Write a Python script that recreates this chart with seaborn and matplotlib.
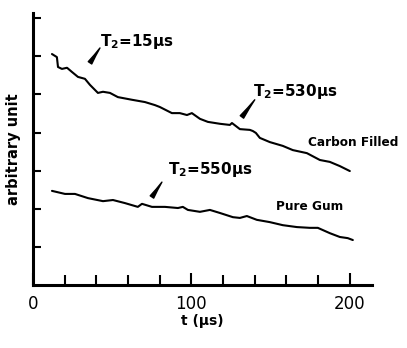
import numpy as np
import pandas as pd
import matplotlib
matplotlib.use("Agg")
import matplotlib.pyplot as plt
import seaborn as sns

# Data
carbon_t = [12.0, 15.1, 15.8, 18.3, 21.5, 24.6, 28.4, 32.8, 36.0, 41.0, 44.2, 48.6, 53.6,
            62.5, 70.7, 77.0, 80.1, 87.7, 92.7, 97.2, 100.3, 105.4, 110.4, 118.0, 124.3,
            125.6, 130.6, 136.9, 138.8, 140.7, 143.2, 149.5, 157.7, 164.0, 172.9, 181.1,
            187.4, 193.7, 200.0]
carbon_v = [6.06, 5.98, 5.72, 5.67, 5.70, 5.59, 5.46, 5.41, 5.25, 5.04, 5.07, 5.04, 4.93,
            4.86, 4.80, 4.72, 4.67, 4.51, 4.51, 4.46, 4.51, 4.36, 4.28, 4.23, 4.20,
            4.25, 4.09, 4.07, 4.04, 3.99, 3.86, 3.75, 3.65, 3.54, 3.46, 3.28,
            3.23, 3.12, 2.99]
gum_t = [12.0, 20.2, 26.5, 34.7, 44.2, 50.5, 58.0, 66.2, 68.8, 75.1, 83.3, 91.5, 94.6,
         97.8, 105.4, 111.7, 118.0, 126.2, 130.6, 135.0, 141.3, 149.5, 157.7, 166.6,
         174.8, 179.8, 187.4, 193.7, 198.7, 201.9]
gum_v = [2.47, 2.39, 2.39, 2.28, 2.20, 2.23, 2.15, 2.05, 2.13, 2.05, 2.05, 2.02, 2.05,
         1.97, 1.92, 1.97, 1.89, 1.78, 1.76, 1.81, 1.71, 1.65, 1.57, 1.52,
         1.50, 1.50, 1.36, 1.26, 1.23, 1.18]
series_names = ["Carbon Filled", "Pure Gum"]
x_tick_labels = ["0", "100", "200"]
x_label = "t (μs)"
y_label = "arbitrary unit"
t2_labels = ["T$_2$=15μs", "T$_2$=530μs", "T$_2$=550μs"]

df = pd.concat([
    pd.DataFrame({"t": carbon_t, "v": carbon_v, "s": series_names[0]}),
    pd.DataFrame({"t": gum_t, "v": gum_v, "s": series_names[1]}),
])

sns.set_style("white")
plt.rcParams["font.family"] = ["DejaVu Sans"]
plt.rcParams["mathtext.default"] = "bf"
plt.rcParams["text.color"] = "black"
plt.rcParams["axes.labelcolor"] = "black"
plt.rcParams["xtick.color"] = "black"
plt.rcParams["ytick.color"] = "black"

fig = plt.figure(figsize=(4.07, 3.48), dpi=100)
ax = fig.add_axes([0.081, 0.181, 0.833, 0.782])

sns.lineplot(data=df, x="t", y="v", units="s", estimator=None, color="black",
             linewidth=1.5, legend=False, ax=ax, sort=False)

ax.set_xlim(0, 214)
ax.set_ylim(0, 7.14)
ax.set_xticks([0, 100, 200])
ax.set_xticklabels(x_tick_labels, fontsize=12)
ax.set_xticks(np.arange(20, 201, 20), minor=True)
ax.set_yticks(np.arange(1, 8, 1))
ax.set_yticklabels([])
ax.tick_params(axis="x", which="both", bottom=True, direction="in", length=7, width=1.5, pad=7)
ax.tick_params(axis="x", which="major", length=9)
ax.tick_params(axis="y", which="both", left=True, direction="in", length=6, width=1.5)
for side in ["top", "right"]:
    ax.spines[side].set_visible(False)
for side in ["left", "bottom"]:
    ax.spines[side].set_linewidth(2.2)
    ax.spines[side].set_color("black")

ax.set_xlabel(x_label, fontsize=10, fontweight="bold", labelpad=1)
ax.set_ylabel(y_label, fontsize=10.5, fontweight="bold", labelpad=5)

# annotations
ax.text(42.3, 6.40, t2_labels[0], fontsize=11, fontweight="bold", va="center", ha="left")
ax.text(138.8, 5.09, t2_labels[1], fontsize=11, fontweight="bold", va="center", ha="left")
ax.text(85.2, 3.02, t2_labels[2], fontsize=11, fontweight="bold", va="center", ha="left")
ax.text(173.5, 3.75, series_names[0], fontsize=8.7, fontweight="bold", va="center", ha="left")
ax.text(153.3, 2.05, series_names[1], fontsize=8.7, fontweight="bold", va="center", ha="left")

arrow_kw = dict(arrowstyle="wedge,tail_width=0.3,shrink_factor=0.4", color="black", lw=1.0,
                shrinkA=0, shrinkB=0)
for (x0, y0), (x1, y1) in [((36.0, 5.83), (42.3, 6.22)),
                           ((131.9, 4.41), (140.0, 4.86)),
                           ((75.1, 2.31), (81.4, 2.70))]:
    ax.annotate("", xy=(x1, y1), xytext=(x0, y0), arrowprops=arrow_kw)

fig.savefig("out.png", dpi=100)
